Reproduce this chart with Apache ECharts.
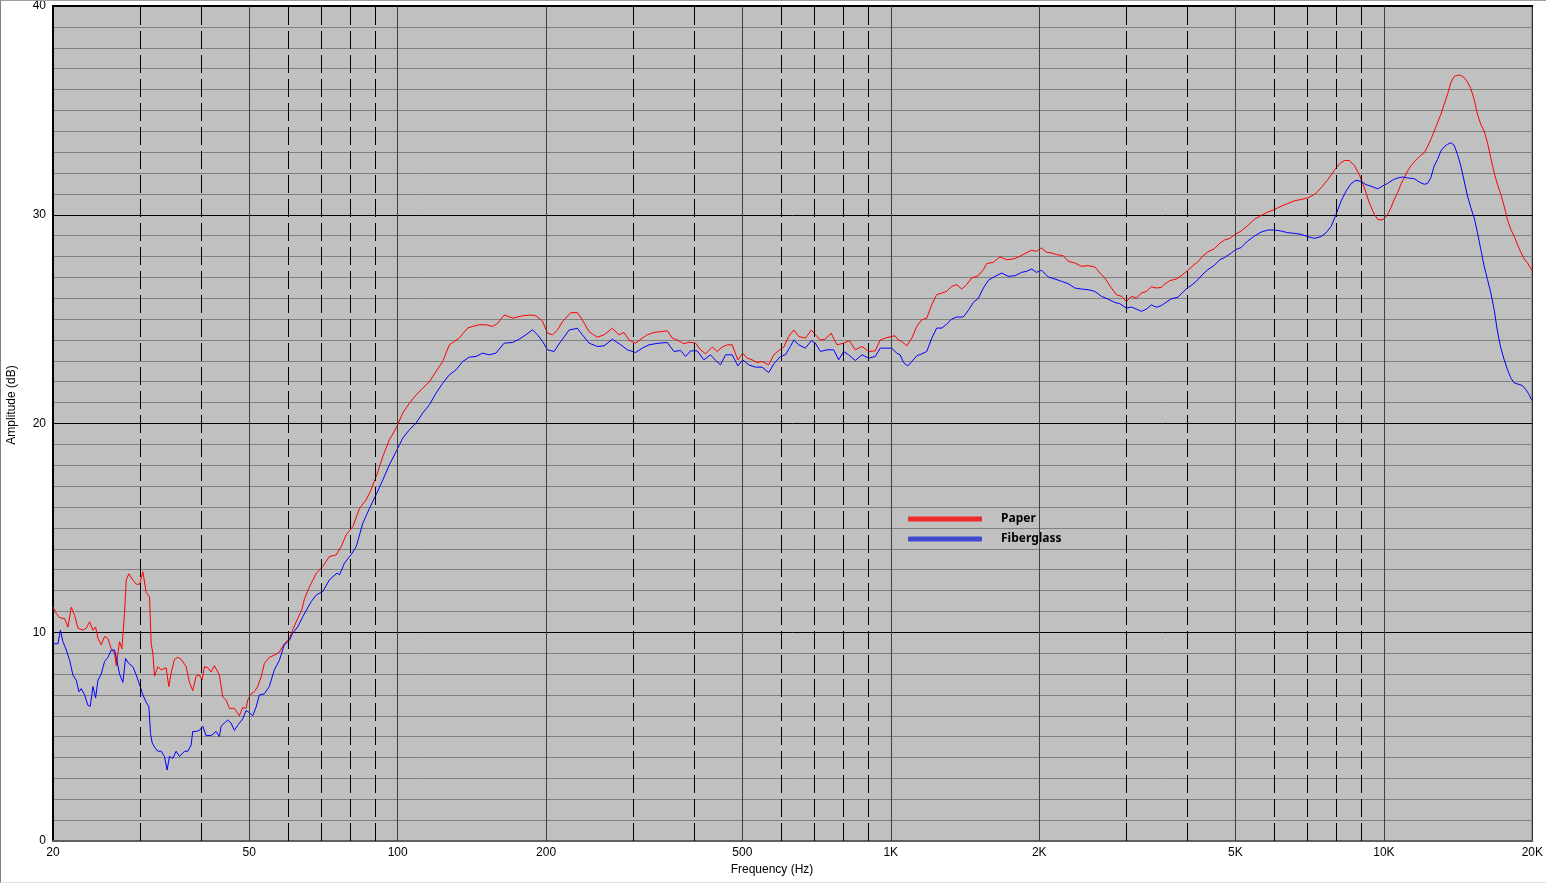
<!DOCTYPE html>
<html>
<head>
<meta charset="utf-8">
<script src="https://cdn.jsdelivr.net/npm/echarts@6/dist/echarts.min.js"></script>
<style>
html,body{margin:0;padding:0;background:#fff;}
#chart{position:absolute;left:0;top:0;width:1546px;height:883px;}
#frame{position:absolute;left:0;top:0;width:1546px;height:883px;box-sizing:border-box;border-left:1px solid #808080;border-top:1px solid #a0a0a0;border-bottom:1px solid #e0e0e0;pointer-events:none;}
</style>
</head>
<body>
<div id="chart"></div>
<div id="frame"></div>
<script>
// ---- Data ----
const xTickLabels = [20, 50, 100, 200, 500, 1000, 2000, 5000, 10000, 20000];
const dashedGridFreqs = [30, 40, 60, 70, 80, 90, 300, 400, 600, 700, 800, 900, 3000, 4000, 6000, 7000, 8000, 9000];
const solidGridFreqs = [50, 100, 200, 500, 1000, 2000, 5000, 10000];
const seriesNames = ['Paper', 'Fiberglass'];

const paperFreq = [20,20.31,20.63,21.12,21.45,21.78,22.13,22.47,23.0,23.36,23.73,24.1,24.4,24.67,25.05,25.45,25.85,26.25,26.66,26.87,27.29,27.59,27.93,28.15,28.5,29.04,29.5,29.96,30.43,30.9,31.39,31.63,31.88,32.13,32.63,33.14,33.92,34.35,34.72,35.27,35.82,36.38,37.24,37.82,38.41,39.02,39.63,40.12,40.56,41.2,41.84,42.5,43.5,44.18,44.88,45.58,46.65,47.76,48.5,49.26,49.65,50.42,51.21,52.02,52.83,53.66,54.92,56.22,57.54,58.9,60.29,61.23,62.67,63.95,64.7,66.3,68.4,70.5,72.7,75.0,76.8,78.6,81.1,83.7,86.3,88.3,90.7,93.3,96.2,99.3,102.4,105.6,109.0,112.4,116.0,119.6,123.4,127.3,133.3,138.6,141.9,146.4,151.0,155.8,159.5,164.5,171.0,179.2,186.3,190.7,196.7,201.3,206.0,210.9,215.9,224.4,231.5,236.9,244.4,254.1,262.1,272.5,281.1,287.7,294.5,303.8,313.4,320.8,330.9,341.4,352.2,360.5,369.0,380.6,389.6,401.9,411.4,421.1,434.4,444.6,455.2,465.9,476.9,489.6,500.9,511.4,523.5,535.7,548.3,565.7,579.1,592.7,606.7,621.0,635.7,650.6,671.2,690.2,703.2,719.8,736.8,756.5,777.9,802.5,824.0,847.3,874.1,901.7,930.2,952.1,974.5,1005,1020,1036,1053,1078,1103,1129,1156,1183,1211,1239,1269,1298,1329,1360,1393,1425,1459,1505,1541,1565,1614,1665,1717,1772,1828,1871,1930,1975,2022,2070,2119,2169,2237,2290,2362,2437,2513,2593,2654,2717,2802,2868,2936,3005,3076,3149,3223,3299,3376,3456,3537,3593,3677,3793,3883,3993,4100,4196,4296,4397,4536,4643,4752,4864,4995,5136,5298,5466,5638,5816,6000,6189,6384,6586,6794,7009,7230,7458,7694,7937,8125,8316,8512,8712,8918,9128,9343,9564,9712,9865,10019,10175,10335,10497,10661,10829,10998,11170,11345,11522,11703,11886,12073,12260,12453,12649,12847,13048,13252,13460,13671,13884,14102,14323,14548,14776,15007,15242,15481,15724,15969,16220,16473,16731,16993,17259,17530,17804,18084,18366,18654,18947,19244,19545,19912,20000];
const paperDb = [11.2,10.9,10.7,10.65,10.25,11.2,10.8,10.2,10.1,10.2,10.5,10.1,10.25,9.7,9.4,9.8,9.7,9.2,9.0,8.4,9.55,9.2,10.9,12.5,12.8,12.5,12.3,12.3,12.9,11.9,11.7,9.45,9.0,7.9,8.35,8.2,8.3,7.4,8.05,8.7,8.8,8.7,8.35,7.6,7.2,7.9,7.95,7.7,8.35,8.3,8.1,8.4,7.95,6.9,6.75,6.35,6.35,6.0,6.4,6.35,6.75,7.05,7.15,7.4,7.85,8.5,8.8,8.9,9.05,9.45,9.7,10.1,10.65,11.1,11.6,12.19,12.83,13.15,13.63,13.7,14.1,14.66,15.06,15.94,16.34,16.82,17.54,18.42,19.22,19.78,20.5,20.97,21.37,21.69,22.0,22.49,22.97,23.77,24.09,24.57,24.65,24.73,24.73,24.65,24.8,25.2,25.05,25.16,25.2,25.16,24.9,24.33,24.25,24.48,24.88,25.31,25.31,24.96,24.4,24.13,24.25,24.56,24.25,24.36,24.0,23.85,24.09,24.25,24.36,24.4,24.44,24.09,24.0,23.82,23.9,23.85,23.53,23.34,23.66,23.45,23.66,23.77,23.77,23.05,23.37,23.13,23.05,22.92,22.97,22.81,23.29,23.5,23.66,24.17,24.48,24.17,24.09,24.48,24.25,24.0,24.04,24.33,23.77,23.85,23.97,23.53,23.69,23.45,23.48,24.0,24.09,24.17,24.2,24.0,23.93,23.72,24.09,24.65,24.97,25.05,25.69,26.17,26.25,26.33,26.57,26.65,26.44,26.65,26.97,27.08,27.37,27.66,27.72,27.98,27.85,27.88,28.01,28.14,28.3,28.25,28.41,28.2,28.17,28.09,28.04,27.77,27.69,27.53,27.56,27.5,27.21,26.97,26.49,26.17,26.09,25.85,26.09,26.01,26.25,26.33,26.55,26.49,26.52,26.68,26.84,26.92,27.08,27.32,27.56,27.75,28.03,28.22,28.38,28.63,28.79,28.86,29.06,29.22,29.49,29.78,29.97,30.13,30.25,30.41,30.54,30.67,30.73,30.81,30.97,31.29,31.68,32.13,32.44,32.6,32.6,32.35,31.92,31.29,30.57,30.02,29.78,29.75,29.81,30.02,30.34,30.74,31.06,31.46,31.78,32.1,32.34,32.53,32.69,32.85,32.97,33.26,33.61,34.01,34.41,34.81,35.29,35.77,36.33,36.62,36.68,36.68,36.57,36.36,36.04,35.53,34.81,34.33,34.01,33.45,32.73,32.02,31.46,30.98,30.42,29.78,29.3,28.98,28.58,28.21,27.89,27.7,27.38,27.3];

const glassFreq = [20,20.47,20.7,20.95,21.28,21.62,21.95,22.3,22.58,22.82,23.18,23.54,23.8,24.1,24.4,24.67,25.05,25.45,25.85,26.25,26.66,26.95,27.29,27.72,28.06,28.5,29.04,29.5,30.05,30.43,30.9,31.29,31.53,31.78,32.13,32.63,33.14,33.66,34.08,34.45,34.99,35.54,36.1,36.95,37.53,38.12,38.41,39.02,39.63,40.25,40.88,41.84,42.83,43.5,43.84,44.53,45.23,45.93,46.65,47.39,48.5,49.26,50.03,50.82,51.61,52.42,53.66,54.92,56.22,57.54,58.9,60.29,61.23,62.67,63.95,64.2,66.8,68.4,70.5,72.7,75.3,76.2,78.0,80.4,82.4,85.0,87.7,90.7,93.3,96.2,99.3,102.4,105.6,109.0,112.4,116.0,119.6,123.4,127.3,131.3,135.5,139.7,144.1,148.7,153.4,158.2,164.5,171.0,176.4,182.0,187.7,192.1,196.7,201.3,207.6,214.2,222.7,231.5,236.9,244.4,254.1,262.1,272.5,283.3,292.3,303.8,313.4,323.3,338.7,352.2,363.3,374.8,383.6,392.7,405.1,417.8,431.0,441.2,451.6,462.3,476.9,489.6,500.9,515.2,531.6,548.3,565.7,579.1,597.3,611.4,625.8,635.7,650.6,671.2,690.2,703.2,719.8,742.5,765.9,784.0,802.5,821.4,847.3,874.1,901.7,930.2,952.1,982.1,1005,1028,1045,1061,1083,1103,1129,1156,1183,1211,1239,1269,1298,1329,1360,1403,1437,1470,1505,1541,1577,1627,1678,1731,1786,1842,1885,1930,1975,2022,2086,2152,2220,2290,2362,2437,2513,2593,2674,2759,2846,2913,3005,3076,3149,3223,3299,3376,3456,3537,3620,3706,3823,3913,3993,4100,4196,4296,4397,4536,4643,4752,4902,4995,5136,5298,5466,5638,5816,6000,6189,6384,6586,6794,7009,7230,7458,7634,7815,7999,8188,8380,8578,8780,8987,9197,9414,9713,9941,10175,10415,10661,10913,11170,11522,11794,12073,12260,12453,12649,12847,13048,13252,13460,13671,13884,14102,14323,14548,14776,15007,15242,15481,15724,15969,16220,16473,16731,16993,17259,17530,17804,18084,18366,18799,19095,19394,19698,19912,20000];
const glassDb = [9.45,9.45,10.1,9.55,9.15,8.65,7.95,7.7,7.15,7.3,7.0,6.5,6.45,7.4,6.85,7.7,8.0,8.6,8.8,9.15,9.15,8.65,8.0,7.6,8.75,8.5,8.35,7.95,7.4,7.0,6.65,6.45,5.15,4.7,4.5,4.3,4.3,4.05,3.4,4.05,3.95,4.3,4.05,4.3,4.3,4.6,5.25,5.25,5.3,5.5,5.05,5.05,5.25,5.0,5.5,5.65,5.8,5.65,5.3,5.55,5.85,6.25,6.15,6.0,6.4,7.0,7.05,7.4,8.2,8.65,9.4,9.6,9.95,10.25,10.65,10.75,11.47,11.79,11.95,12.51,12.83,12.75,13.31,13.71,14.1,15.23,15.94,16.66,17.3,18.02,18.66,19.3,19.7,20.02,20.5,20.9,21.45,21.93,22.33,22.57,22.97,23.18,23.21,23.37,23.29,23.37,23.85,23.88,24.04,24.25,24.49,24.25,23.93,23.53,23.45,23.93,24.48,24.56,24.25,23.85,23.69,23.72,24.04,23.77,23.53,23.4,23.61,23.77,23.85,23.88,23.45,23.5,23.21,23.48,23.48,23.05,23.29,23.02,22.81,23.29,23.29,22.76,23.05,22.81,22.7,22.7,22.44,22.86,23.21,23.29,23.69,24.0,23.77,23.61,23.97,23.85,23.45,23.53,23.53,23.05,23.45,23.29,23.02,23.29,23.13,23.21,23.61,23.61,23.61,23.37,23.29,22.92,22.76,22.97,23.24,23.34,23.45,24.09,24.57,24.57,24.76,25.0,25.1,25.1,25.42,25.8,26.0,26.49,26.86,27.05,27.21,27.05,27.08,27.24,27.29,27.4,27.24,27.34,27.02,26.92,26.81,26.7,26.49,26.44,26.41,26.33,26.09,25.96,25.8,25.74,25.53,25.58,25.48,25.37,25.48,25.68,25.57,25.65,25.81,25.97,26.05,26.29,26.49,26.68,26.89,27.16,27.37,27.59,27.84,27.95,28.16,28.32,28.43,28.75,28.98,29.17,29.27,29.27,29.22,29.14,29.11,29.06,28.95,28.87,28.95,29.14,29.43,30.02,30.65,31.13,31.49,31.65,31.6,31.44,31.37,31.24,31.38,31.5,31.66,31.76,31.81,31.76,31.73,31.57,31.46,31.5,31.78,32.34,32.65,33.05,33.26,33.37,33.45,33.33,32.89,32.34,31.62,30.9,30.34,29.86,29.14,28.34,27.54,26.9,26.27,25.47,24.43,23.63,23.07,22.59,22.19,21.95,21.87,21.82,21.63,21.39,21.15,21.1];

// ---- Build chart ----
function pairs(xs, ys) { return xs.map((x, i) => [x, ys[i]]); }
const chart = echarts.init(document.getElementById('chart'), null, { renderer: 'canvas' });
const labelFont = { fontFamily: 'Liberation Sans, Arial, sans-serif', fontSize: 12, color: '#000' };

chart.setOption({
  animation: false,
  backgroundColor: '#ffffff',
  grid: { left: 53, top: 6, width: 1482, height: 835, show: true, backgroundColor: '#c0c0c0', borderColor: '#000', borderWidth: 1 },
  xAxis: [{
    type: 'log', logBase: 10, min: 20, max: 20000,
    axisLine: { show: true, lineStyle: { color: '#606060', width: 2 } },
    axisTick: { show: false },
    splitLine: { show: false },
    minorSplitLine: { show: false },
    axisLabel: Object.assign({
      customValues: xTickLabels,
      margin: 6,
      showMinLabel: true, showMaxLabel: true,
      formatter: function (v) { const r = Math.round(v); return r >= 1000 ? (r / 1000) + 'K' : String(r); }
    }, labelFont)
  }, {
    type: 'log', logBase: 10, min: 20, max: 20000, position: 'top',
    axisLine: { show: true, lineStyle: { color: '#000', width: 2 } },
    axisTick: { show: false }, axisLabel: { show: false }, splitLine: { show: false }
  }],
  yAxis: {
    type: 'value', min: 0, max: 40, interval: 10,
    axisLine: { show: true, onZero: false, lineStyle: { color: '#000', width: 2 } },
    axisTick: { show: false },
    axisLabel: Object.assign({ margin: 7 }, labelFont),
    splitLine: { show: true, lineStyle: { color: '#000', width: 1 } },
    minorTick: { show: false, splitNumber: 10 },
    minorSplitLine: { show: true, lineStyle: { color: '#808080', width: 1 } }
  },
  legend: {
    orient: 'vertical', left: 903, top: 506,
    itemWidth: 74, itemHeight: 5, itemGap: 4,
    icon: 'roundRect',
    textStyle: { fontFamily: 'Noto Sans, Liberation Sans, sans-serif', fontWeight: 'bold', fontSize: 12, color: '#000', lineHeight: 16, padding: [0, 0, 0, 14] },
    data: [
      { name: seriesNames[0], itemStyle: { color: '#ee2a2a' } },
      { name: seriesNames[1], itemStyle: { color: '#4048d0' } }
    ]
  },
  graphic: [
    { type: 'text', x: 772, y: 870, style: { text: 'Frequency (Hz)', textAlign: 'center', textVerticalAlign: 'middle', fill: '#000', font: '12px "Liberation Sans", Arial, sans-serif' } },
    { type: 'text', x: 12, y: 405, rotation: Math.PI / 2, style: { text: 'Amplitude (dB)', textAlign: 'center', textVerticalAlign: 'middle', fill: '#000', font: '12px "Liberation Sans", Arial, sans-serif' } }
  ],
  series: [
    {
      name: 'gridSolid', type: 'line', data: [], z: 1, silent: true,
      markLine: { silent: true, symbol: 'none', label: { show: false }, animation: false,
        lineStyle: { color: '#404040', width: 1, type: 'solid' },
        data: solidGridFreqs.map(f => ({ xAxis: f })) }
    },
    {
      name: 'gridDashed', type: 'line', data: [], z: 1, silent: true,
      markLine: { silent: true, symbol: 'none', label: { show: false }, animation: false,
        lineStyle: { color: '#000', width: 1, type: [18, 6] },
        data: dashedGridFreqs.map(f => ({ xAxis: f })) }
    },
    {
      name: seriesNames[0], type: 'line', z: 3, showSymbol: false, symbol: 'none',
      lineStyle: { color: '#ff0000', width: 1 }, itemStyle: { color: '#ee2a2a' },
      data: pairs(paperFreq, paperDb)
    },
    {
      name: seriesNames[1], type: 'line', z: 4, showSymbol: false, symbol: 'none',
      lineStyle: { color: '#0000ff', width: 1 }, itemStyle: { color: '#4048d0' },
      data: pairs(glassFreq, glassDb)
    }
  ]
});
</script>
</body>
</html>
